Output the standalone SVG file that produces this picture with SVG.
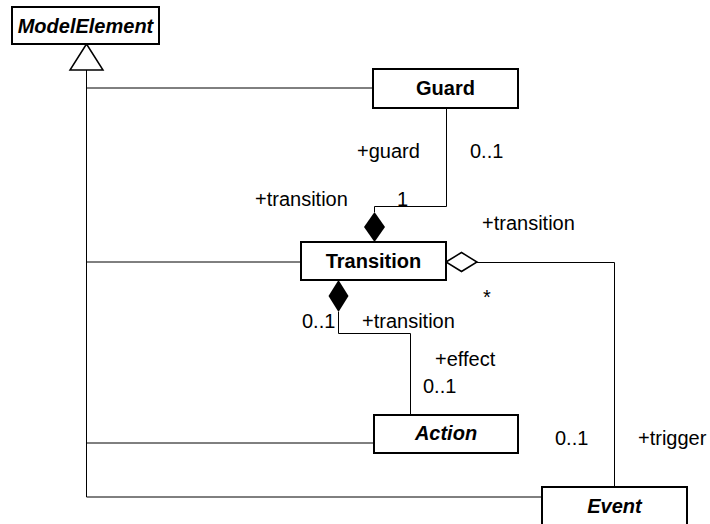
<svg xmlns="http://www.w3.org/2000/svg" width="710" height="524" viewBox="0 0 710 524">
  <style>
    .box { fill: #fff; stroke: #000; stroke-width: 2; }
    .name { font-family: "Liberation Sans", Arial, sans-serif; font-size: 20px; font-weight: bold; text-anchor: middle; fill: #000; }
    .abstract { font-style: italic; }
    .lbl { font-family: "Liberation Sans", Arial, sans-serif; font-size: 20px; fill: #000; }
    .line { fill: none; stroke: #000; stroke-width: 1; }
  </style>

  <!-- connectors -->
  <g id="connectors">
    <!-- generalization tree to ModelElement -->
    <polygon points="86.5,44 70,70 103,70" fill="#fff" stroke="#000" stroke-width="1.5"/>
    <path class="line" d="M86.5,70 V497"/>
    <path class="line" d="M86.5,88 H373"/>
    <path class="line" d="M86.5,262 H301"/>
    <path class="line" d="M86.5,443 H374"/>
    <path class="line" d="M86.5,497 H542"/>

    <!-- Guard / Transition composition -->
    <path class="line" d="M446.5,108 V206.5 H374.5 V212"/>
    <polygon points="374.5,212 385,227 374.5,242 364,227" fill="#000"/>

    <!-- Transition / Action composition -->
    <polygon points="338.5,280 348.5,296 338.5,312 328.5,296" fill="#000"/>
    <path class="line" d="M338.5,312 V333.5 H410.5 V415"/>

    <!-- Transition / Event aggregation -->
    <polygon points="446,262 461.5,252.5 477,262 461.5,271.5" fill="#fff" stroke="#000" stroke-width="1.5"/>
    <path class="line" d="M477,262.5 H614.5 V487"/>

    <!-- association end labels -->
    <text class="lbl" x="357" y="158">+guard</text>
    <text class="lbl" x="470" y="158">0..1</text>
    <text class="lbl" x="255" y="206">+transition</text>
    <text class="lbl" x="397" y="206">1</text>
    <text class="lbl" x="482" y="230">+transition</text>
    <text class="lbl" x="483" y="304">*</text>
    <text class="lbl" x="302" y="328">0..1</text>
    <text class="lbl" x="362" y="328">+transition</text>
    <text class="lbl" x="435" y="366">+effect</text>
    <text class="lbl" x="423" y="393">0..1</text>
    <text class="lbl" x="555" y="445">0..1</text>
    <text class="lbl" x="638" y="445">+trigger</text>
  </g>

  <g id="ModelElement">
    <rect class="box" x="12" y="7" width="147" height="37"/>
    <text class="name abstract" x="85.5" y="33">ModelElement</text>
  </g>

  <g id="Guard">
    <rect class="box" x="373" y="69" width="145" height="39"/>
    <text class="name" x="445.5" y="95">Guard</text>
  </g>

  <g id="Transition">
    <rect class="box" x="301" y="242" width="145" height="38"/>
    <text class="name" x="373.5" y="268">Transition</text>
  </g>

  <g id="Action">
    <rect class="box" x="374" y="415" width="144" height="38"/>
    <text class="name abstract" x="446" y="440">Action</text>
  </g>

  <g id="Event">
    <rect class="box" x="542" y="487" width="145" height="45"/>
    <text class="name abstract" x="614.5" y="513">Event</text>
  </g>
</svg>
